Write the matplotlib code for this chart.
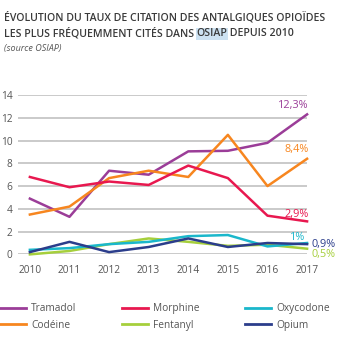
import matplotlib
matplotlib.use("Agg")
import matplotlib.pyplot as plt

years = [2010, 2011, 2012, 2013, 2014, 2015, 2016, 2017]
tramadol = [4.9, 3.3, 7.35, 7.0, 9.05, 9.1, 9.8, 12.3]
morphine = [6.8, 5.9, 6.4, 6.1, 7.8, 6.7, 3.4, 2.9]
codeine = [3.5, 4.2, 6.7, 7.35, 6.8, 10.5, 6.0, 8.4]
oxycodone = [0.4, 0.55, 0.9, 1.1, 1.6, 1.7, 0.7, 1.0]
fentanyl = [0.0, 0.3, 0.9, 1.4, 1.1, 0.75, 0.85, 0.5]
opium = [0.2, 1.1, 0.2, 0.65, 1.4, 0.65, 1.0, 0.9]
yticks = [0, 2, 4, 6, 8, 10, 12, 14]

series = [
    ("Tramadol", tramadol, "#9b3d98"),
    ("Codéine", codeine, "#f7861f"),
    ("Morphine", morphine, "#e8184f"),
    ("Fentanyl", fentanyl, "#a6cf3c"),
    ("Oxycodone", oxycodone, "#1ab7cb"),
    ("Opium", opium, "#2b3d8b"),
]

plt.rcParams['font.family'] = ['Open Sans', 'DejaVu Sans']
fig = plt.figure(figsize=(3.6, 3.54), dpi=100)
ax = fig.add_axes([0.05, 0.2814, 0.803, 0.4502])

handles = {}
for name, vals, col in series:
    ln, = ax.plot(years, vals, color=col, lw=1.8, clip_on=False, zorder=3)
    handles[name] = ln

ax.set_xlim(2009.7, 2017)
ax.set_ylim(0, 14)
ax.set_yticks(yticks)
ax.set_xticks(years)
ax.grid(axis='y', color='#c6c6c6', lw=1.3)
ax.set_axisbelow(True)
for s in ax.spines.values():
    s.set_visible(False)
ax.tick_params(axis='both', length=0, labelsize=7.3, colors='#555555')
ax.tick_params(axis='y', pad=4)
ax.tick_params(axis='x', pad=8)
for lbl in ax.get_yticklabels():
    lbl.set_horizontalalignment('right')

# end labels
fs = 7.8
ax.annotate("12,3%", (2017, tramadol[-1]), xytext=(1, 2.5), textcoords='offset points', color="#9b3d98", fontsize=fs, ha='right', va='bottom')
ax.annotate("8,4%", (2017, codeine[-1]), xytext=(1, 3), textcoords='offset points', color="#f7861f", fontsize=fs, ha='right', va='bottom')
ax.annotate("2,9%", (2017, morphine[-1]), xytext=(1, 1), textcoords='offset points', color="#e8184f", fontsize=fs, ha='right', va='bottom')
ax.annotate("1%", (2017, oxycodone[-1]), xytext=(-1, 0), textcoords='offset points', color="#1ab7cb", fontsize=fs, ha='right', va='bottom')
ax.annotate("0,9%", (2017, opium[-1]), xytext=(3, 0), textcoords='offset points', color="#2b3d8b", fontsize=fs, ha='left', va='center')
ax.annotate("0,5%", (2017, fentanyl[-1]), xytext=(3, -4.5), textcoords='offset points', color="#a6cf3c", fontsize=fs, ha='left', va='center')

order = ["Tramadol", "Codéine", "Morphine", "Fentanyl", "Oxycodone", "Opium"]
leg = fig.legend([handles[n] for n in order], order, ncol=3, loc='upper left',
                 bbox_to_anchor=(0.0, 0.143), frameon=False, fontsize=7.3,
                 handlelength=2.6, handletextpad=0.45, columnspacing=4.5,
                 labelspacing=0.55, borderaxespad=0, borderpad=0)
for t in leg.get_texts():
    t.set_color('#555555')
for h in leg.legend_handles:
    h.set_linewidth(2.0)

# title
tcol = '#3a3a3a'
tfs = 7.6
y1, y2, y3 = 0.943, 0.897, 0.856
fig.text(0.01, y1, "ÉVOLUTION DU TAUX DE CITATION DES ANTALGIQUES OPIOÏDES",
         fontsize=tfs, color=tcol, ha='left', va='baseline', weight='semibold')
t1 = fig.text(0.01, y2, "LES PLUS FRÉQUEMMENT CITÉS DANS ", fontsize=tfs,
              color=tcol, ha='left', va='baseline', weight='semibold')
fig.canvas.draw()
r = fig.canvas.get_renderer()
bb = t1.get_window_extent(r)
x2 = bb.x1 / fig.bbox.width
t2 = fig.text(x2, y2, "OSIAP", fontsize=tfs, color=tcol, ha='left', va='baseline',
              weight='semibold',
              bbox=dict(boxstyle='square,pad=0.05', fc='#cde2f2', ec='none'))
bb2 = t2.get_window_extent(r)
x3 = bb2.x1 / fig.bbox.width
fig.text(x3, y2, " DEPUIS 2010", fontsize=tfs, color=tcol, ha='left', va='baseline',
         weight='semibold')
fig.text(0.012, y3, "(source OSIAP)", fontsize=6.5, color='#555555',
         style='italic', ha='left', va='baseline')

fig.savefig("out.png", dpi=100)
